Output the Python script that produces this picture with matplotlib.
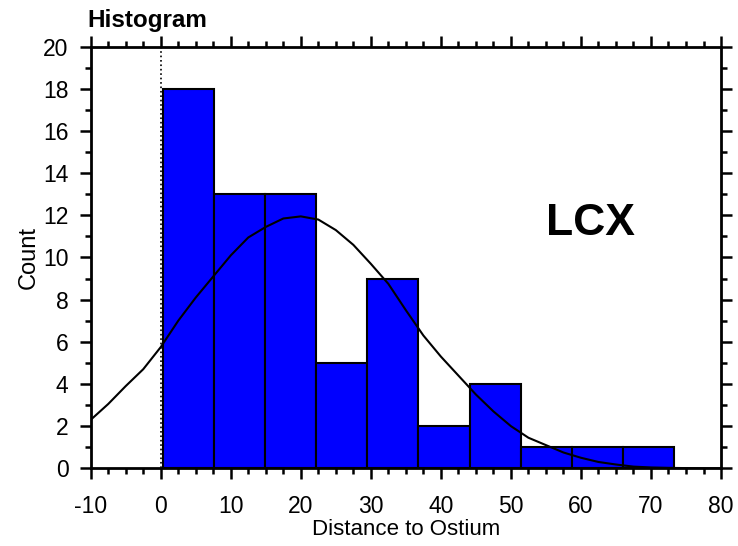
import numpy as np
import matplotlib
matplotlib.use("Agg")
import matplotlib.pyplot as plt
from matplotlib.ticker import MultipleLocator

# histogram counts per bin (bins start at 0.3, width 7.3)
counts = [18, 13, 13, 5, 9, 2, 4, 1, 1, 1]
bin_start = 0.3
bin_width = 7.3

# fitted normal curve
curve_x = [-10, -7.5, -5, -2.5, 0, 2.5, 5, 7.5, 10, 12.5, 15, 17.5, 20, 22.5,
           25, 27.5, 30, 32.5, 35, 37.5, 40, 42.5, 45, 47.5, 50, 52.5, 55,
           57.5, 60, 62.5, 65, 67.5, 70, 72.5, 75, 77.5, 80]
curve_y = [2.3, 3.05, 3.9, 4.7, 5.75, 7.0, 8.1, 9.1, 10.1, 10.95, 11.45, 11.85,
           11.95, 11.8, 11.3, 10.6, 9.7, 8.75, 7.5, 6.3, 5.3, 4.4, 3.5, 2.7,
           2.0, 1.45, 1.1, 0.75, 0.5, 0.3, 0.18, 0.08, 0.04, 0.02, 0.01, 0.0, 0.0]

plt.rcParams['font.family'] = ['Liberation Sans', 'DejaVu Sans']
plt.rcParams['axes.unicode_minus'] = False

fig = plt.figure(figsize=(7.38, 5.46), dpi=100)
ax = fig.add_axes([0.1229, 0.1423, 0.977 - 0.1229, 0.9145 - 0.1423])

lefts = [bin_start + i * bin_width for i in range(len(counts))]
ax.bar(lefts, counts, width=bin_width, align='edge', color='#0000ff',
       edgecolor='black', linewidth=1.5, zorder=2)
ax.plot(curve_x, curve_y, color='black', linewidth=1.5, zorder=3)
ax.axvline(0, color='black', linestyle=':', linewidth=1.2, zorder=1)

ax.set_xlim(-10, 80)
ax.set_ylim(0, 20)
ax.xaxis.set_major_locator(MultipleLocator(10))
ax.xaxis.set_minor_locator(MultipleLocator(2.5))
ax.yaxis.set_major_locator(MultipleLocator(2))
ax.yaxis.set_minor_locator(MultipleLocator(1))

for s in ax.spines.values():
    s.set_linewidth(2)
ax.tick_params(which='both', direction='out', top=True, right=True,
               width=1.8, labelsize=16.5)
ax.tick_params(which='major', length=8)
ax.tick_params(which='minor', length=4)
ax.tick_params(axis='x', which='major', pad=11)
ax.tick_params(axis='y', which='major', pad=8)

ax.set_xlabel("Distance to Ostium", fontsize=16, labelpad=1)
ax.set_ylabel("Count", fontsize=17, labelpad=2)
fig.text(0.119, 0.962, "Histogram", fontsize=17.5, fontweight='bold',
         ha='left', va='center')
ax.text(0.723, 0.5534, "LCX", transform=ax.transAxes, fontsize=32,
        fontweight='bold', ha='left', va='baseline')

fig.savefig("out.png", dpi=100)
